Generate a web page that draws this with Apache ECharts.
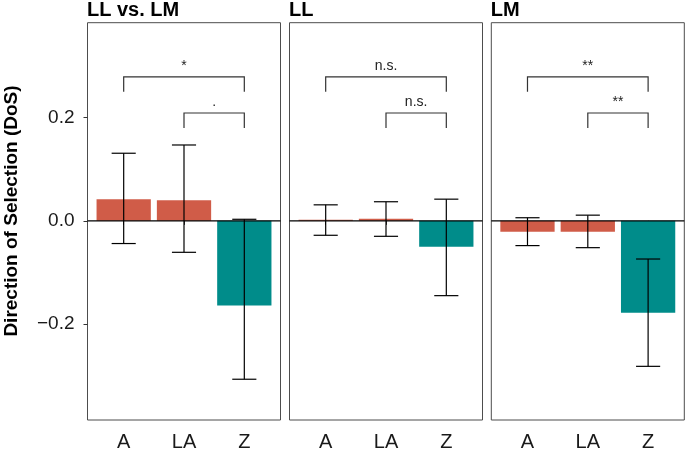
<!DOCTYPE html>
<html>
<head>
<meta charset="utf-8">
<script src="https://cdn.jsdelivr.net/npm/echarts@6/dist/echarts.min.js"></script>
<style>html,body{margin:0;padding:0;background:#fff}#c{width:685px;height:452px}</style>
</head>
<body>
<div id="c"></div>
<script>
// ---- data ----
const categories = ['A', 'LA', 'Z'];
const panelTitles = ['LL vs. LM', 'LL', 'LM'];
const meanLLvsLM  = [0.042, 0.040, -0.164];
const lowerLLvsLM = [-0.044, -0.061, -0.307];
const upperLLvsLM = [0.131, 0.147, 0.003];
const meanLL  = [0.002, 0.004, -0.050];
const lowerLL = [-0.028, -0.030, -0.145];
const upperLL = [0.031, 0.037, 0.042];
const meanLM  = [-0.021, -0.021, -0.178];
const lowerLM = [-0.048, -0.052, -0.282];
const upperLM = [0.006, 0.011, -0.074];
const comparisons = [['A', 'Z'], ['LA', 'Z']];
const sigLLvsLM = ['*', '.'];
const sigLL = ['n.s.', 'n.s.'];
const sigLM = ['**', '**'];
const yTicks = [-0.2, 0.0, 0.2];

const panels = [
  { mean: meanLLvsLM, lower: lowerLLvsLM, upper: upperLLvsLM, sig: sigLLvsLM },
  { mean: meanLL, lower: lowerLL, upper: upperLL, sig: sigLL },
  { mean: meanLM, lower: lowerLM, upper: upperLM, sig: sigLM }
];

// ---- styling / layout ----
const barColors = { A: '#D05C48', LA: '#D05C48', Z: '#008C8A' };
const gridLefts = [87.5, 289.5, 491.3];
const gridW = 193;
const gridTop = 22.7, gridH = 400.6;
const yMin = -0.386, yMax = 0.384;
const xMin = 0.4, xMax = 3.6;
const bracketLevels = [0.279, 0.209];
const bracketDrop = 0.029;
const FONT = 'Liberation Sans, Arial, Helvetica, sans-serif';

const chart = echarts.init(document.getElementById('c'), null, { renderer: 'canvas' });

const grids = [], xAxes = [], yAxes = [], series = [], titles = [];
const fmt = v => (v < 0 ? '\u2212' : '') + Math.abs(v).toFixed(1);

panels.forEach((p, i) => {
  grids.push({ left: gridLefts[i], top: gridTop, width: gridW, height: gridH,
    show: true, borderColor: '#4d4d4d', borderWidth: 1, backgroundColor: '#fff' });
  xAxes.push({ type: 'value', gridIndex: i, min: xMin, max: xMax,
    axisLine: { show: false }, splitLine: { show: false },
    axisTick: { show: true, customValues: [1, 2, 3], length: 4, lineStyle: { color: '#333', width: 1 } },
    axisLabel: { show: true, customValues: [1, 2, 3], formatter: v => categories[Math.round(v) - 1],
      fontSize: 20, color: '#1a1a1a', fontFamily: FONT, margin: 12 } });
  yAxes.push({ type: 'value', gridIndex: i, min: yMin, max: yMax,
    axisLine: { show: false }, splitLine: { show: false },
    axisTick: { show: i === 0, customValues: yTicks, length: 4, lineStyle: { color: '#333', width: 1 } },
    axisLabel: { show: i === 0, customValues: yTicks, formatter: fmt,
      fontSize: 19, color: '#1a1a1a', fontFamily: FONT, margin: 13 } });
  titles.push({ text: panelTitles[i], left: gridLefts[i] - 0.5, top: 0, padding: 0,
    textStyle: { fontSize: 20, fontWeight: 'bold', color: '#000', fontFamily: FONT } });

  // bars
  series.push({ type: 'custom', xAxisIndex: i, yAxisIndex: i,
    data: categories.map((c, k) => [k + 1, p.mean[k], k]),
    renderItem: (params, api) => {
      const x = api.value(0), y = api.value(1);
      const a = api.coord([x - 0.45, 0]);
      const b = api.coord([x + 0.45, y]);
      return { type: 'rect',
        shape: { x: a[0], y: Math.min(a[1], b[1]), width: b[0] - a[0], height: Math.abs(b[1] - a[1]) },
        style: { fill: barColors[categories[api.value(2)]] } };
    } });
  // zero line
  series.push({ type: 'line', xAxisIndex: i, yAxisIndex: i, data: [[xMin, 0], [xMax, 0]],
    symbol: 'none', silent: true, lineStyle: { color: '#000', width: 1.1 } });
  // error bars
  series.push({ type: 'custom', xAxisIndex: i, yAxisIndex: i,
    data: categories.map((c, k) => [k + 1, p.lower[k], p.upper[k]]),
    renderItem: (params, api) => {
      const x = api.value(0), lo = api.value(1), hi = api.value(2);
      const t = api.coord([x, hi]), b = api.coord([x, lo]);
      const l = api.coord([x - 0.2, hi])[0], r = api.coord([x + 0.2, hi])[0];
      const st = { stroke: '#000', lineWidth: 1.2 };
      return { type: 'group', children: [
        { type: 'line', shape: { x1: t[0], y1: t[1], x2: b[0], y2: b[1] }, style: st },
        { type: 'line', shape: { x1: l, y1: t[1], x2: r, y2: t[1] }, style: st },
        { type: 'line', shape: { x1: l, y1: b[1], x2: r, y2: b[1] }, style: st }
      ] };
    } });
  // significance brackets
  series.push({ type: 'custom', xAxisIndex: i, yAxisIndex: i,
    data: comparisons.map((cmp, k) => [categories.indexOf(cmp[0]) + 1, categories.indexOf(cmp[1]) + 1, bracketLevels[k], k]),
    renderItem: (params, api) => {
      const x1 = api.value(0), x2 = api.value(1), y = api.value(2), k = api.value(3);
      const p1 = api.coord([x1, y - bracketDrop]), p2 = api.coord([x1, y]);
      const p3 = api.coord([x2, y]), p4 = api.coord([x2, y - bracketDrop]);
      return { type: 'group', children: [
        { type: 'polyline', shape: { points: [p1, p2, p3, p4] },
          style: { stroke: '#333', lineWidth: 1.2, fill: null } },
        { type: 'text', x: (p2[0] + p3[0]) / 2, y: p2[1] - 4,
          style: { text: p.sig[k], fontSize: 14, fontFamily: FONT, fill: '#222',
            align: 'center', verticalAlign: 'bottom' } }
      ] };
    } });
});

chart.setOption({
  animation: false,
  backgroundColor: '#fff',
  title: titles,
  grid: grids,
  xAxis: xAxes,
  yAxis: yAxes,
  series: series,
  graphic: [{ type: 'text', x: 12, y: 211, rotation: Math.PI / 2,
    style: { text: 'Direction of Selection (DoS)', fontSize: 19, fontWeight: 'bold',
      fontFamily: FONT, fill: '#000', align: 'center', verticalAlign: 'middle' } }]
});
</script>
</body>
</html>
